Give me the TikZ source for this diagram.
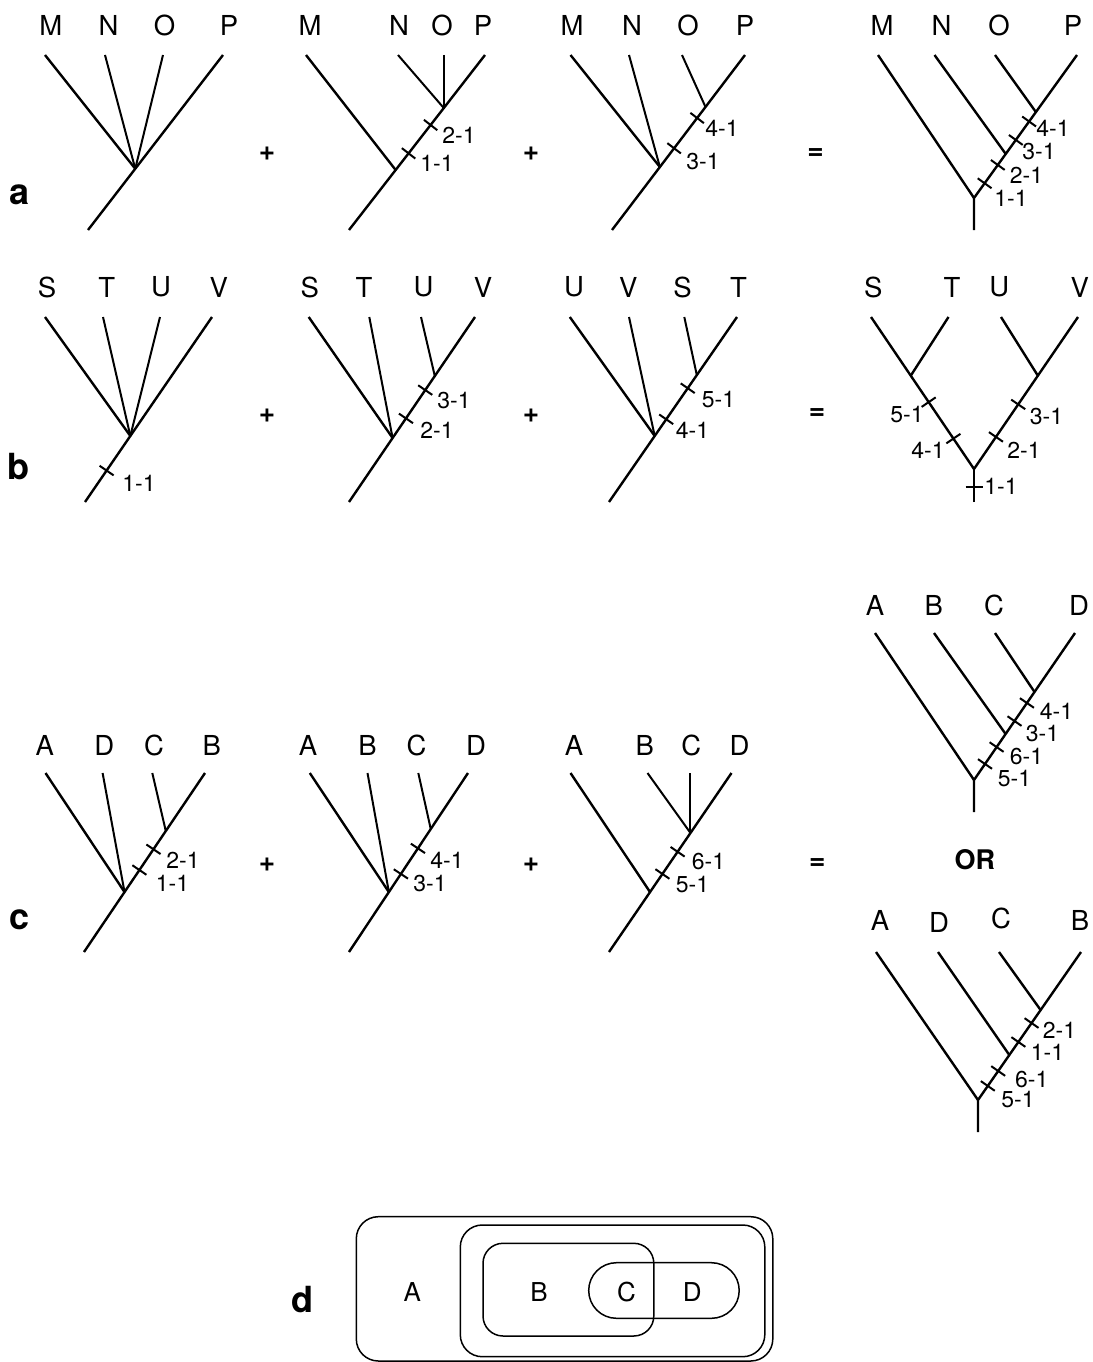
\documentclass[tikz,border=0pt]{standalone}
\usepackage{fontspec}
\setmainfont{TeX Gyre Heros}
\usetikzlibrary{calc}
\newcommand\tck[4]{\coordinate (#4) at ($(#1)!#3!(#2)$);\draw[tickl] ($(#4)!8.5pt!90:(#2)$) -- ($(#4)!8.5pt!-90:(#2)$);}
\tikzset{
  br/.style={line width=2.4pt},
  lf/.style={line width=2.0pt},
  tickl/.style={line width=2.0pt},
  lt/.style={font=\fontsize{27.5}{30}\selectfont, inner sep=0pt},
  bl/.style={font=\fontsize{26}{28}\selectfont, inner sep=0pt},
  tl/.style={font=\fontsize{23}{25}\selectfont, inner sep=0pt},
  op/.style={font=\bfseries\fontsize{28}{30}\selectfont, inner sep=0pt},
  orl/.style={font=\bfseries\fontsize{27}{29}\selectfont, inner sep=0pt},
  pan/.style={font=\bfseries\fontsize{36}{38}\selectfont, inner sep=0pt},
  bx/.style={line width=1.5pt},
}
\begin{document}
\begin{tikzpicture}[x=1pt,y=-1pt]
\useasboundingbox (0,0) rectangle (1092,1362);
\fill[white] (0,0) rectangle (1092,1362);

% ================= ROW A =================
\node[pan] (pa) at (20,195) {a};
% a1
\coordinate (a1r) at (88,230); \coordinate (a1p) at (223,55);
\coordinate (a1m) at (45,55); \coordinate (a1n) at (105,55); \coordinate (a1o) at (163,55);
\coordinate (a1j) at ($(a1r)!0.35!(a1p)$);
\draw[br] (a1r) -- (a1p);
\draw[br] (a1m) -- (a1j);
\draw[lf] (a1n) -- (a1j);
\draw[lf] (a1o) -- (a1j);
\node[lt] (a1M) at (50.8,25) {M}; \node[lt] (a1N) at (108.5,25) {N};
\node[lt] (a1O) at (164.5,25) {O}; \node[lt] (a1P) at (229,25) {P};
\node[op] (ap1) at (267,154) {+};
% a2
\coordinate (a2r) at (349,230); \coordinate (a2p) at (485,55);
\coordinate (a2m) at (306,55); \coordinate (a2n) at (398,55);
\coordinate (a2j1) at ($(a2r)!0.697!(a2p)$); \coordinate (a2j2) at ($(a2r)!0.343!(a2p)$);
\coordinate (a2o) at (a2j1 |- a2p);
\draw[br] (a2r) -- (a2p);
\draw[br] (a2m) -- (a2j2);
\draw[lf] (a2n) -- (a2j1);
\draw[lf] (a2o) -- (a2j1);
\tck{a2r}{a2p}{0.6}{a2t2} \tck{a2r}{a2p}{0.438}{a2t1}
\node[tl] (a2l2) at (459,135) {2-1}; \node[tl] (a2l1) at (437,163) {1-1};
\node[lt] (a2M) at (310,25) {M}; \node[lt] (a2N) at (399,25) {N};
\node[lt] (a2O) at (442,25) {O}; \node[lt] (a2P) at (483,25) {P};
\node[op] (ap2) at (531,154) {+};
% a3
\coordinate (a3r) at (612,230); \coordinate (a3p) at (745,55);
\coordinate (a3m) at (570.5,55); \coordinate (a3n) at (629,55); \coordinate (a3o) at (682,55);
\coordinate (a3j1) at ($(a3r)!0.703!(a3p)$); \coordinate (a3j2) at ($(a3r)!0.36!(a3p)$);
\draw[br] (a3r) -- (a3p);
\draw[br] (a3m) -- (a3j2);
\draw[lf] (a3n) -- (a3j2);
\draw[lf] (a3o) -- (a3j1);
\tck{a3r}{a3p}{0.64}{a3t4} \tck{a3r}{a3p}{0.467}{a3t3}
\node[tl] (a3l4) at (722,128.3) {4-1}; \node[tl] (a3l3) at (703,161.7) {3-1};
\node[lt] (a3M) at (572,25) {M}; \node[lt] (a3N) at (632,25) {N};
\node[lt] (a3O) at (688,25) {O}; \node[lt] (a3P) at (745,25) {P};
\node[op] (aeq) at (815.5,154) {=};
% a4
\coordinate (a4r) at (974,198); \coordinate (a4b) at (974,230); \coordinate (a4p) at (1077,55);
\coordinate (a4m) at (878,55); \coordinate (a4n) at (934.5,55); \coordinate (a4o) at (995,55);
\coordinate (a4j1) at ($(a4r)!0.601!(a4p)$); \coordinate (a4j2) at ($(a4r)!0.308!(a4p)$);
\draw[br] (a4b) -- (a4r) -- (a4p);
\draw[br] (a4m) -- (a4r);
\draw[br] (a4n) -- (a4j2);
\draw[br] (a4o) -- (a4j1);
\tck{a4r}{a4p}{0.535}{a4t4} \tck{a4r}{a4p}{0.406}{a4t3}
\tck{a4r}{a4p}{0.231}{a4t2} \tck{a4r}{a4p}{0.103}{a4t1}
\node[tl] (a4l4) at (1053,128.3) {4-1}; \node[tl] (a4l3) at (1039,151.7) {3-1};
\node[tl] (a4l2) at (1026.5,175) {2-1}; \node[tl] (a4l1) at (1011,198.3) {1-1};
\node[lt] (a4M) at (882,25) {M}; \node[lt] (a4N) at (941.5,25) {N};
\node[lt] (a4O) at (999,25) {O}; \node[lt] (a4P) at (1073,25) {P};

% ================= ROW B =================
\node[pan] (pb) at (18,467) {b};
% b1
\coordinate (b1r) at (85,502); \coordinate (b1p) at (212,317);
\coordinate (b1s) at (45,317); \coordinate (b1t) at (103,317); \coordinate (b1u) at (160,317);
\coordinate (b1j) at ($(b1r)!0.357!(b1p)$);
\draw[br] (b1r) -- (b1p);
\draw[br] (b1s) -- (b1j);
\draw[lf] (b1t) -- (b1j);
\draw[lf] (b1u) -- (b1j);
\tck{b1r}{b1p}{0.17}{b1t1}
\node[tl] (b1l1) at (139,483.3) {1-1};
\node[lt] (b1S) at (47,287) {S}; \node[lt] (b1T) at (106.8,287) {T};
\node[lt] (b1U) at (161,287) {U}; \node[lt] (b1V) at (218.8,287) {V};
\node[op] (bp1) at (267,416) {+};
% b2
\coordinate (b2r) at (349,502); \coordinate (b2p) at (475,317);
\coordinate (b2s) at (308.7,317); \coordinate (b2t) at (369.3,317); \coordinate (b2u) at (421,317);
\coordinate (b2j1) at ($(b2r)!0.681!(b2p)$); \coordinate (b2j2) at ($(b2r)!0.346!(b2p)$);
\draw[br] (b2r) -- (b2p);
\draw[br] (b2s) -- (b2j2);
\draw[lf] (b2t) -- (b2j2);
\draw[lf] (b2u) -- (b2j1);
\tck{b2r}{b2p}{0.605}{b2t3} \tck{b2r}{b2p}{0.452}{b2t2}
\node[tl] (b2l3) at (454,401) {3-1}; \node[tl] (b2l2) at (437,430) {2-1};
\node[lt] (b2S) at (309.8,287) {S}; \node[lt] (b2T) at (364,287) {T};
\node[lt] (b2U) at (423.5,287) {U}; \node[lt] (b2V) at (483,287) {V};
\node[op] (bp2) at (531,416) {+};
% b3
\coordinate (b3r) at (609,502); \coordinate (b3p) at (737,317);
\coordinate (b3u) at (569.8,317); \coordinate (b3v) at (629,317); \coordinate (b3s) at (684.3,317);
\coordinate (b3j1) at ($(b3r)!0.686!(b3p)$); \coordinate (b3j2) at ($(b3r)!0.357!(b3p)$);
\draw[br] (b3r) -- (b3p);
\draw[br] (b3u) -- (b3j2);
\draw[lf] (b3v) -- (b3j2);
\draw[lf] (b3s) -- (b3j1);
\tck{b3r}{b3p}{0.615}{b3t5} \tck{b3r}{b3p}{0.447}{b3t4}
\node[tl] (b3l5) at (718.5,400) {5-1}; \node[tl] (b3l4) at (692.5,430.7) {4-1};
\node[lt] (b3U) at (574,287) {U}; \node[lt] (b3V) at (628.3,287) {V};
\node[lt] (b3S) at (682.5,287) {S}; \node[lt] (b3T) at (738.5,287) {T};
\node[op] (beq) at (817,414) {=};
% b4
\coordinate (b4r) at (974,469); \coordinate (b4b) at (974,502);
\coordinate (b4s) at (871,317); \coordinate (b4v) at (1078,317);
\coordinate (b4t) at (948.5,317); \coordinate (b4u) at (1001,317);
\coordinate (b4jl) at ($(b4r)!0.614!(b4s)$); \coordinate (b4jr) at ($(b4r)!0.614!(b4v)$);
\draw[br] (b4b) -- (b4r);
\draw[br] (b4s) -- (b4r) -- (b4v);
\draw[br] (b4t) -- (b4jl);
\draw[br] (b4u) -- (b4jr);
\tck{b4r}{b4s}{0.44}{b4t5} \tck{b4r}{b4s}{0.2}{b4t4}
\tck{b4r}{b4v}{0.425}{b4t3} \tck{b4r}{b4v}{0.211}{b4t2}
\tck{b4b}{b4r}{0.46}{b4t1}
\node[tl] (b4l5) at (907,415) {5-1}; \node[tl] (b4l4) at (928,450.7) {4-1};
\node[tl] (b4l3) at (1046.5,416.7) {3-1}; \node[tl] (b4l2) at (1024,450) {2-1};
\node[tl] (b4l1) at (1001,486.7) {1-1};
\node[lt] (b4S) at (873.3,287) {S}; \node[lt] (b4T) at (952,287) {T};
\node[lt] (b4U) at (999.3,287) {U}; \node[lt] (b4V) at (1079.8,287) {V};

% ================= ROW C =================
\node[pan] (pc) at (19.3,919.3) {c};
% c1
\coordinate (c1r) at (84,952); \coordinate (c1p) at (205,773);
\coordinate (c1a) at (45.5,773); \coordinate (c1d) at (102.6,773); \coordinate (c1c) at (152.3,773);
\coordinate (c1j1) at ($(c1r)!0.676!(c1p)$); \coordinate (c1j2) at ($(c1r)!0.335!(c1p)$);
\draw[br] (c1r) -- (c1p);
\draw[br] (c1a) -- (c1j2);
\draw[lf] (c1d) -- (c1j2);
\draw[lf] (c1c) -- (c1j1);
\tck{c1r}{c1p}{0.574}{c1t2} \tck{c1r}{c1p}{0.458}{c1t1}
\node[tl] (c1l2) at (183,860) {2-1}; \node[tl] (c1l1) at (172.5,883.3) {1-1};
\node[lt] (c1A) at (44.8,745) {A}; \node[lt] (c1D) at (104.3,745) {D};
\node[lt] (c1C) at (154,745) {C}; \node[lt] (c1B) at (211.8,745) {B};
\node[op] (cp1) at (267,865) {+};
% c2
\coordinate (c2r) at (349,952); \coordinate (c2p) at (468,773);
\coordinate (c2a) at (309.8,773); \coordinate (c2b) at (367.5,773); \coordinate (c2c) at (418.3,773);
\coordinate (c2j1) at ($(c2r)!0.687!(c2p)$); \coordinate (c2j2) at ($(c2r)!0.335!(c2p)$);
\draw[br] (c2r) -- (c2p);
\draw[br] (c2a) -- (c2j2);
\draw[lf] (c2b) -- (c2j2);
\draw[lf] (c2c) -- (c2j1);
\tck{c2r}{c2p}{0.579}{c2t4} \tck{c2r}{c2p}{0.436}{c2t3}
\node[tl] (c2l4) at (447,860) {4-1}; \node[tl] (c2l3) at (430,883.3) {3-1};
\node[lt] (c2A) at (308,745) {A}; \node[lt] (c2B) at (367.5,745) {B};
\node[lt] (c2C) at (416.5,745) {C}; \node[lt] (c2D) at (476,745) {D};
\node[op] (cp2) at (531,865) {+};
% c3
\coordinate (c3r) at (609,952); \coordinate (c3p) at (731.5,773);
\coordinate (c3a) at (570.5,773); \coordinate (c3b) at (647.5,773);
\coordinate (c3j1) at ($(c3r)!0.665!(c3p)$); \coordinate (c3j2) at ($(c3r)!0.335!(c3p)$);
\coordinate (c3c) at (c3j1 |- c3p);
\draw[br] (c3r) -- (c3p);
\draw[br] (c3a) -- (c3j2);
\draw[lf] (c3b) -- (c3j1);
\draw[lf] (c3c) -- (c3j1);
\tck{c3r}{c3p}{0.56}{c3t6} \tck{c3r}{c3p}{0.436}{c3t5}
\node[tl] (c3l6) at (708.5,861.7) {6-1}; \node[tl] (c3l5) at (692.5,885) {5-1};
\node[lt] (c3A) at (574,745) {A}; \node[lt] (c3B) at (644.7,745) {B};
\node[lt] (c3C) at (691.3,745) {C}; \node[lt] (c3D) at (739.6,745) {D};
\node[op] (ceq) at (817.3,864) {=};
\node[orl] (cor) at (974.8,860) {OR};
% c4 top
\coordinate (c4r) at (974,780); \coordinate (c4b) at (974,812); \coordinate (c4p) at (1075,633);
\coordinate (c4a) at (875,633); \coordinate (c4bb) at (934,633); \coordinate (c4c) at (995,633);
\coordinate (c4j1) at ($(c4r)!0.599!(c4p)$); \coordinate (c4j2) at ($(c4r)!0.313!(c4p)$);
\draw[br] (c4b) -- (c4r) -- (c4p);
\draw[br] (c4a) -- (c4r);
\draw[br] (c4bb) -- (c4j2);
\draw[br] (c4c) -- (c4j1);
\tck{c4r}{c4p}{0.524}{c4t4} \tck{c4r}{c4p}{0.401}{c4t3}
\tck{c4r}{c4p}{0.224}{c4t6} \tck{c4r}{c4p}{0.109}{c4t5}
\node[tl] (c4l4) at (1056.5,711.7) {4-1}; \node[tl] (c4l3) at (1042.5,733.3) {3-1};
\node[tl] (c4l6) at (1026.5,756.7) {6-1}; \node[tl] (c4l5) at (1014.5,778.3) {5-1};
\node[lt] (c4A) at (875,605) {A}; \node[lt] (c4B) at (933.8,605) {B};
\node[lt] (c4C) at (994,605) {C}; \node[lt] (c4D) at (1079,605) {D};
% c5 bottom
\coordinate (c5r) at (978,1100); \coordinate (c5b) at (978,1132); \coordinate (c5p) at (1081,952);
\coordinate (c5a) at (876,952); \coordinate (c5d) at (938,952); \coordinate (c5c) at (999,952);
\coordinate (c5j1) at ($(c5r)!0.608!(c5p)$); \coordinate (c5j2) at ($(c5r)!0.304!(c5p)$);
\draw[br] (c5b) -- (c5r) -- (c5p);
\draw[br] (c5a) -- (c5r);
\draw[br] (c5d) -- (c5j2);
\draw[br] (c5c) -- (c5j1);
\tck{c5r}{c5p}{0.520}{c5t2} \tck{c5r}{c5p}{0.392}{c5t1}
\tck{c5r}{c5p}{0.196}{c5t6} \tck{c5r}{c5p}{0.095}{c5t5}
\node[tl] (c5l2) at (1059.5,1030) {2-1}; \node[tl] (c5l1) at (1047.5,1052.7) {1-1};
\node[tl] (c5l6) at (1031.8,1080) {6-1}; \node[tl] (c5l5) at (1018,1100) {5-1};
\node[lt] (c5A) at (880,920) {A}; \node[lt] (c5D) at (939,922) {D};
\node[lt] (c5C) at (1001,918) {C}; \node[lt] (c5B) at (1080,920) {B};

% ================= ROW D =================
\node[pan] (pd) at (302.8,1300) {d};
\draw[bx, rounded corners=22pt] (356.3,1216.7) rectangle (772.8,1361);
\draw[bx, rounded corners=22pt] (460.3,1225) rectangle (764.8,1356.7);
\draw[bx, rounded corners=20pt] (483,1243.3) rectangle (653.8,1336);
\draw[bx, rounded corners=27.8pt] (588.7,1262.7) rectangle (739.2,1318.3);
\node[bl] (dA) at (412.3,1291.7) {A}; \node[bl] (dB) at (539,1291.7) {B};
\node[bl] (dC) at (626.5,1291.7) {C}; \node[bl] (dD) at (692.3,1291.7) {D};
\end{tikzpicture}
\end{document}
